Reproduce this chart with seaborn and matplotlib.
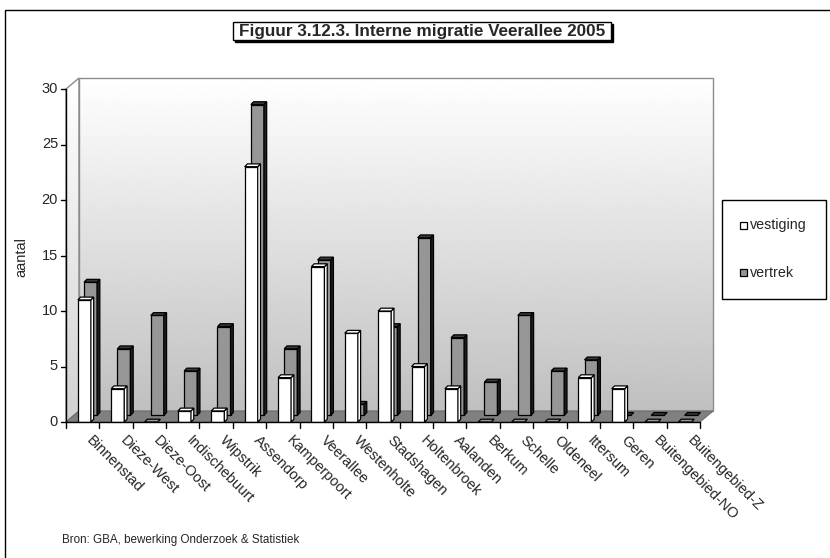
import numpy as np
import pandas as pd
import matplotlib
matplotlib.use("Agg")
import matplotlib.pyplot as plt
from matplotlib.patches import Polygon, Rectangle
import seaborn as sns

# Interne migratie per wijk, Veerallee 2005
wijken = ["Binnenstad", "Dieze-West", "Dieze-Oost", "Indischebuurt", "Wipstrik",
          "Assendorp", "Kamperpoort", "Veerallee", "Westenholte", "Stadshagen",
          "Holtenbroek", "Aalanden", "Berkum", "Schelle", "Oldeneel", "Ittersum",
          "Geren", "Buitengebied-NO", "Buitengebied-Z"]
vestiging = [11, 3, 0, 1, 1, 23, 4, 14, 8, 10, 5, 3, 0, 0, 0, 4, 3, 0, 0]
vertrek = [12, 6, 9, 4, 8, 28, 6, 14, 1, 8, 16, 7, 3, 9, 4, 5, 0, 0, 0]
y_ticks = [0, 5, 10, 15, 20, 25, 30]

titel = "Figuur 3.12.3. Interne migratie Veerallee 2005"
bron = "Bron: GBA, bewerking Onderzoek & Statistiek"

sns.set_theme(style="white")
plt.rcParams["font.family"] = ["Liberation Sans", "DejaVu Sans"]

W, H = 830, 558
fig = plt.figure(figsize=(W / 100, H / 100), dpi=100)


def fx(x):
    return x / W


def fy(y):
    return 1 - y / H


# plot area (front plane) in pixels
X0, X1, Y0, Y1 = 66, 700, 422, 89
ax = fig.add_axes([fx(X0), fy(Y0), (X1 - X0) / W, (Y0 - Y1) / H])
n = len(wijken)
ymax = 30
ax.set_xlim(0, n)
ax.set_ylim(0, ymax)
ax.axis("off")

ux = (X1 - X0) / n          # pixels per category
uy = (Y0 - Y1) / ymax       # pixels per unit
DX, DY = 13 / ux, 11 / uy   # depth of the walls
ddx, ddy = 2.8 / ux, 2.8 / uy  # depth of a single bar
lift = 0.6                  # second row of bars stands further back

# back wall with vertical gradient
grad = np.linspace(1.0, 0.75, 256).reshape(-1, 1)
ax.imshow(grad, cmap="gray", vmin=0, vmax=1, aspect="auto",
          extent=[DX, n + DX, DY, ymax + DY], origin="upper",
          zorder=0, clip_on=False)
# side wall
side = Polygon([(0, 0), (0, ymax), (DX, ymax + DY), (DX, DY)], closed=True,
               facecolor="none", edgecolor="none")
ax.add_patch(side)
im2 = ax.imshow(np.linspace(1.0, 0.82, 256).reshape(-1, 1), cmap="gray",
                vmin=0, vmax=1, aspect="auto",
                extent=[0, DX, 0, ymax + DY], origin="upper", zorder=0)
im2.set_clip_path(side)
ax.add_patch(Polygon([(0, 0), (0, ymax), (DX, ymax + DY), (DX, DY)], closed=True,
                     facecolor="none", edgecolor="#8c8c8c", lw=1.0, zorder=1,
                     clip_on=False))
ax.add_patch(Rectangle((DX, DY), n, ymax, facecolor="none", edgecolor="#8c8c8c",
                       lw=1.0, zorder=1, clip_on=False))
# floor
ax.add_patch(Polygon([(0, 0), (n, 0), (n + DX, DY), (DX, DY)], closed=True,
                     facecolor="#808080", edgecolor="#6e6e6e", lw=0.8, zorder=1,
                     clip_on=False))

# front faces of the bars
df_vest = pd.DataFrame({"pos": np.arange(n) + 0.55, "aantal": vestiging})
df_vert = pd.DataFrame({"pos": np.arange(n) + 0.735, "aantal": vertrek})
sns.barplot(data=df_vert, x="pos", y="aantal", native_scale=True, width=0.39,
            color="#969696", saturation=1, edgecolor="black", linewidth=0.9,
            bottom=lift, ax=ax, zorder=2, errorbar=None)
sns.barplot(data=df_vest, x="pos", y="aantal", native_scale=True, width=0.39,
            color="white", saturation=1, edgecolor="black", linewidth=0.9,
            ax=ax, zorder=4, errorbar=None)


def add_box_faces(x0, x1, base, top, top_col, side_col, z):
    if top > base:
        ax.add_patch(Polygon([(x1, base), (x1 + ddx, base + ddy),
                              (x1 + ddx, top + ddy), (x1, top)], closed=True,
                             facecolor=side_col, edgecolor="black", lw=0.9,
                             zorder=z, clip_on=False))
    ax.add_patch(Polygon([(x0, top), (x1, top), (x1 + ddx, top + ddy),
                          (x0 + ddx, top + ddy)], closed=True,
                         facecolor=top_col, edgecolor="black", lw=0.9,
                         zorder=z, clip_on=False))


for i, v in enumerate(vertrek):
    c = i + 0.735
    add_box_faces(c - 0.195, c + 0.195, lift, v + lift, "#3a3a3a", "#1e1e1e", 2)
for i, v in enumerate(vestiging):
    c = i + 0.55
    add_box_faces(c - 0.195, c + 0.195, 0, v,
                  "white" if v > 0 else "#9a9a9a", "white", 4)

ax.set_xlim(0, n)
ax.set_ylim(0, ymax)

# axes lines and ticks
ax.plot([0, 0], [0, ymax], color="black", lw=1.0, clip_on=False, zorder=5)
ax.plot([0, n], [0, 0], color="black", lw=1.0, clip_on=False, zorder=5)
tick_x = 5 / ux
tick_y = 6 / uy
for t in y_ticks:
    ax.plot([-tick_x, 0], [t, t], color="black", lw=1.0, clip_on=False)
    ax.text(-8 / ux, t, str(t), ha="right", va="center", fontsize=10.5)
for i in range(n + 1):
    ax.plot([i, i], [0, -tick_y], color="black", lw=1.0, clip_on=False)
for i, name in enumerate(wijken):
    ax.text(i + 0.5 + 11 / ux, -11 / uy, name, rotation=-45, rotation_mode="anchor",
            ha="left", va="top", fontsize=10.5)

fig.text(fx(21), fy(257), "aantal", rotation=90, ha="center", va="center",
         fontsize=10.5)

# outer frame
fig.patches.append(Rectangle((fx(5), fy(600)), fx(900), fy(10) - fy(600),
                             transform=fig.transFigure, facecolor="none",
                             edgecolor="black", lw=1.0))

# title box with shadow
fig.patches.append(Rectangle((fx(235), fy(42)), fx(378), fy(24) - fy(42),
                             transform=fig.transFigure, facecolor="black",
                             edgecolor="black", lw=1.0, zorder=5))
fig.patches.append(Rectangle((fx(233), fy(40)), fx(378), fy(22) - fy(40),
                             transform=fig.transFigure, facecolor="white",
                             edgecolor="black", lw=1.0, zorder=6))
fig.text(fx(422), fy(31.5), titel, ha="center", va="center", fontsize=12.3,
         fontweight="bold", zorder=7)

# legend
fig.patches.append(Rectangle((fx(722), fy(299)), fx(104), fy(200) - fy(299),
                             transform=fig.transFigure, facecolor="white",
                             edgecolor="black", lw=1.0))
for yy, col, lab in [(225, "white", "vestiging"), (273, "#969696", "vertrek")]:
    fig.patches.append(Rectangle((fx(740), fy(yy + 3.5)), fx(7), fy(0) - fy(7),
                                 transform=fig.transFigure, facecolor=col,
                                 edgecolor="black", lw=0.9))
    fig.text(fx(750), fy(yy), lab, ha="left", va="center", fontsize=10.3)

fig.text(fx(62), fy(540), bron, ha="left", va="center", fontsize=8.4)

fig.savefig("out.png", dpi=100)
